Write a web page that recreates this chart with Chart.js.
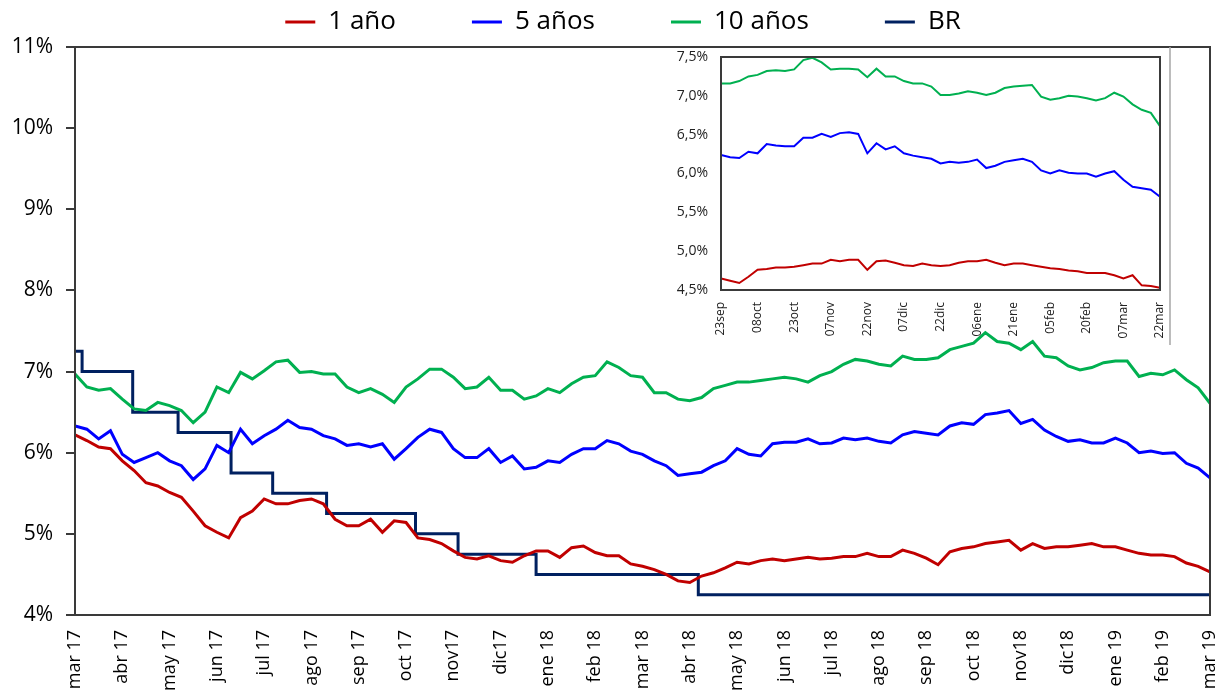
<!DOCTYPE html>
<html>
<head>
<meta charset="utf-8">
<script src="https://cdn.jsdelivr.net/npm/chart.js@4.4.1/dist/chart.umd.min.js"></script>
<style>
  body { margin: 0; background: #fff; }
  #wrap { position: relative; width: 1222px; height: 694px; overflow: hidden; }
  #main { position: absolute; left: 0; top: 0; }
  #inset { position: absolute; left: 660px; top: 45px; }
</style>
</head>
<body>
<div id="wrap">
  <canvas id="main" width="1222" height="694"></canvas>
  <canvas id="inset" width="515" height="305"></canvas>
</div>
<script>
// eje principal: una etiqueta por mes, 4 lecturas por mes
var months = ["mar 17", "abr 17", "may 17", "jun 17", "jul 17", "ago 17", "sep 17", "oct 17", "nov17", "dic17",
  "ene 18", "feb 18", "mar 18", "abr 18", "may 18", "jun 18", "jul 18", "ago 18", "sep 18", "oct 18", "nov18",
  "dic18", "ene 19", "feb 19", "mar 19"];

var uno = [6.22, 6.15, 6.07, 6.05, 5.9, 5.78, 5.63, 5.59, 5.51, 5.45, 5.28, 5.1, 5.02, 4.95, 5.2, 5.28, 5.43,
  5.37, 5.37, 5.41, 5.43, 5.37, 5.18, 5.1, 5.1, 5.18, 5.02, 5.16, 5.14, 4.95, 4.93, 4.88, 4.79,
  4.71, 4.69, 4.73, 4.67, 4.65, 4.73, 4.79, 4.79, 4.71, 4.83, 4.85, 4.77, 4.73, 4.73, 4.63, 4.6,
  4.56, 4.5, 4.42, 4.4, 4.48, 4.52, 4.58, 4.65, 4.63, 4.67, 4.69, 4.67, 4.69, 4.71, 4.69, 4.7,
  4.72, 4.72, 4.76, 4.72, 4.72, 4.8, 4.76, 4.7, 4.62, 4.78, 4.82, 4.84, 4.88, 4.9, 4.92, 4.8,
  4.88, 4.82, 4.84, 4.84, 4.86, 4.88, 4.84, 4.84, 4.8, 4.76, 4.74, 4.74, 4.72, 4.64, 4.6, 4.53];

var cinco = [6.33, 6.29, 6.17, 6.27, 5.98, 5.88, 5.94, 6.0, 5.9, 5.84, 5.67, 5.8, 6.09, 6.0, 6.29, 6.11, 6.21,
  6.29, 6.4, 6.31, 6.29, 6.21, 6.17, 6.09, 6.11, 6.07, 6.11, 5.92, 6.05, 6.19, 6.29, 6.25, 6.05,
  5.94, 5.94, 6.05, 5.88, 5.96, 5.8, 5.82, 5.9, 5.88, 5.98, 6.05, 6.05, 6.15, 6.11, 6.02, 5.98,
  5.9, 5.84, 5.72, 5.74, 5.76, 5.84, 5.9, 6.05, 5.98, 5.96, 6.11, 6.13, 6.13, 6.17, 6.11, 6.12,
  6.18, 6.16, 6.18, 6.14, 6.12, 6.22, 6.26, 6.24, 6.22, 6.33, 6.37, 6.35, 6.47, 6.49, 6.52, 6.36,
  6.41, 6.28, 6.2, 6.14, 6.16, 6.12, 6.12, 6.18, 6.12, 6.0, 6.02, 5.99, 6.0, 5.87, 5.81, 5.69];

var diez = [6.97, 6.81, 6.77, 6.79, 6.66, 6.54, 6.52, 6.62, 6.58, 6.52, 6.37, 6.5, 6.81, 6.74, 6.99, 6.91, 7.01,
  7.12, 7.14, 6.99, 7.0, 6.97, 6.97, 6.81, 6.74, 6.79, 6.72, 6.62, 6.81, 6.91, 7.03, 7.03, 6.93,
  6.79, 6.81, 6.93, 6.77, 6.77, 6.66, 6.7, 6.79, 6.74, 6.85, 6.93, 6.95, 7.12, 7.05, 6.95, 6.93,
  6.74, 6.74, 6.66, 6.64, 6.68, 6.79, 6.83, 6.87, 6.87, 6.89, 6.91, 6.93, 6.91, 6.87, 6.95, 7.0,
  7.09, 7.15, 7.13, 7.09, 7.07, 7.19, 7.15, 7.15, 7.17, 7.27, 7.31, 7.35, 7.48, 7.37, 7.35, 7.27,
  7.37, 7.19, 7.17, 7.07, 7.02, 7.05, 7.11, 7.13, 7.13, 6.94, 6.98, 6.96, 7.02, 6.9, 6.8, 6.61];

// tasa BR: mes (desde mar 17) en que cambia y nuevo nivel
var brMes = [0, 0.15, 1.22, 2.18, 3.3, 4.18, 5.32, 7.2, 8.1, 9.75, 13.18, 24];
var brTasa = [7.25, 7.0, 6.5, 6.25, 5.75, 5.5, 5.25, 5.0, 4.75, 4.5, 4.25, 4.25];

// recuadro: 23sep18 - 22mar19, 4 lecturas cada 15 dias
var fechasInset = ["23sep", "08oct", "23oct", "07nov", "22nov", "07dic", "22dic", "06ene", "21ene", "05feb",
  "20feb", "07mar", "22mar"];
var unoIn = [4.65, 4.62, 4.59, 4.67, 4.76, 4.77, 4.79, 4.79, 4.8, 4.82, 4.84, 4.84, 4.89, 4.87, 4.89, 4.89,
  4.76, 4.87, 4.88, 4.85, 4.82, 4.81, 4.84, 4.82, 4.81, 4.82, 4.85, 4.87, 4.87, 4.89, 4.85, 4.82, 4.84,
  4.84, 4.82, 4.8, 4.78, 4.77, 4.75, 4.74, 4.72, 4.72, 4.72, 4.69, 4.65, 4.69, 4.56, 4.55, 4.53];
var cincoIn = [6.24, 6.21, 6.2, 6.28, 6.26, 6.38, 6.36, 6.35, 6.35, 6.46, 6.46, 6.51, 6.47, 6.52, 6.53, 6.51,
  6.26, 6.39, 6.31, 6.35, 6.26, 6.23, 6.21, 6.19, 6.13, 6.15, 6.14, 6.15, 6.18, 6.07, 6.1, 6.15, 6.17,
  6.19, 6.15, 6.04, 6.0, 6.04, 6.01, 6.0, 6.0, 5.96, 6.0, 6.03, 5.92, 5.83, 5.81, 5.79, 5.7];
var diezIn = [7.16, 7.16, 7.19, 7.25, 7.27, 7.32, 7.33, 7.32, 7.34, 7.46, 7.49, 7.43, 7.34, 7.35, 7.35, 7.34,
  7.24, 7.35, 7.25, 7.25, 7.19, 7.16, 7.16, 7.12, 7.01, 7.01, 7.03, 7.06, 7.04, 7.01, 7.04, 7.1, 7.12,
  7.13, 7.14, 6.99, 6.95, 6.97, 7.0, 6.99, 6.97, 6.94, 6.97, 7.04, 6.99, 6.89, 6.82, 6.78, 6.61];

var ROJO = "#C00000", AZUL = "#0000FF", VERDE = "#00B050", NAVY = "#002060";

function puntos(vals) {
  return vals.map(function (v, i) { return { x: i / 4, y: v }; });
}

function serie(label, vals, color, ancho) {
  return {
    label: label,
    data: puntos(vals),
    borderColor: color,
    backgroundColor: color,
    borderWidth: ancho,
    pointRadius: 0,
    tension: 0
  };
}

// quitar el relleno que Chart.js deja para las etiquetas de los extremos
function sinRelleno(alto, ancho) {
  return function (s) {
    if (alto != null) s.height = alto;
    if (ancho != null) s.width = ancho;
    s.paddingLeft = 0;
    s.paddingRight = 0;
    s.paddingTop = 0;
    s.paddingBottom = 0;
  };
}

var marco = {
  id: "marco",
  afterDraw: function (chart) {
    var a = chart.chartArea, ctx = chart.ctx;
    ctx.save();
    ctx.strokeStyle = "#3a3a3a";
    ctx.lineWidth = 2;
    ctx.strokeRect(a.left, a.top, a.right - a.left, a.bottom - a.top);
    if (chart.canvas.id === "inset") {
      ctx.strokeStyle = "#a6a6a6";
      ctx.lineWidth = 1.5;
      ctx.beginPath();
      ctx.moveTo(510, 2);
      ctx.lineTo(510, 300);
      ctx.stroke();
    }
    ctx.restore();
  }
};

// leyenda con separacion amplia pero pegada arriba
var leyenda = {
  id: "leyenda",
  beforeInit: function (chart) {
    var fit = chart.legend.fit;
    chart.legend.fit = function () {
      fit.call(this);
      this.height = 47;
    };
  },
  afterLayout: function (chart) {
    var lg = chart.legend;
    lg.top = 9 - lg.options.labels.padding;
    lg.left += 18;
    lg.right += 18;
  }
};

var dsBR = {
  label: "BR",
  data: brMes.map(function (m, i) { return { x: m, y: brTasa[i] }; }),
  borderColor: NAVY,
  backgroundColor: NAVY,
  borderWidth: 3,
  pointRadius: 0,
  stepped: true
};

new Chart("main", {
  type: "line",
  data: {
    datasets: [
      serie("1 año", uno, ROJO, 3),
      serie("5 años", cinco, AZUL, 3),
      serie("10 años", diez, VERDE, 3),
      dsBR
    ]
  },
  options: {
    responsive: false,
    animation: false,
    layout: { padding: { right: 12 } },
    plugins: {
      tooltip: { enabled: false },
      legend: {
        position: "top",
        labels: {
          boxWidth: 30,
          boxHeight: 3,
          padding: 76,
          color: "#000",
          font: { family: "Open Sans", size: 26 },
          generateLabels: function (c) {
            return Chart.defaults.plugins.legend.labels.generateLabels(c).map(function (l) {
              l.lineWidth = 0;
              return l;
            });
          }
        }
      }
    },
    scales: {
      x: {
        type: "linear",
        min: 0,
        max: 24,
        afterFit: sinRelleno(79, null),
        grid: { display: false, drawTicks: false },
        border: { display: false },
        ticks: {
          stepSize: 1,
          autoSkip: false,
          minRotation: 90,
          maxRotation: 90,
          padding: 15,
          color: "#000",
          font: { family: "Open Sans", size: 18 },
          callback: function (v) { return months[v]; }
        }
      },
      y: {
        min: 4,
        max: 11,
        afterFit: sinRelleno(null, 75),
        grid: { drawOnChartArea: false, tickLength: 9, color: "#3a3a3a", lineWidth: 2 },
        border: { display: false },
        ticks: {
          stepSize: 1,
          padding: 13,
          color: "#000",
          font: { family: "Open Sans", size: 21 },
          callback: function (v) { return v + "%"; }
        }
      }
    }
  },
  plugins: [marco, leyenda]
});

new Chart("inset", {
  type: "line",
  data: {
    datasets: [
      serie("1 año", unoIn, ROJO, 2),
      serie("5 años", cincoIn, AZUL, 2),
      serie("10 años", diezIn, VERDE, 2)
    ]
  },
  options: {
    responsive: false,
    animation: false,
    layout: { padding: { top: 12, right: 15 } },
    plugins: { legend: { display: false }, tooltip: { enabled: false } },
    scales: {
      x: {
        type: "linear",
        min: 0,
        max: 12,
        afterFit: sinRelleno(60, null),
        grid: { display: false, drawTicks: false },
        border: { display: false },
        ticks: {
          stepSize: 1,
          autoSkip: false,
          minRotation: 90,
          maxRotation: 90,
          padding: 12,
          color: "#222",
          font: { family: "Open Sans", size: 12 },
          callback: function (v) { return fechasInset[v]; }
        }
      },
      y: {
        min: 4.5,
        max: 7.5,
        afterFit: sinRelleno(null, 61),
        grid: { display: false, drawTicks: false },
        border: { display: false },
        ticks: {
          stepSize: 0.5,
          padding: 13,
          color: "#222",
          font: { family: "Open Sans", size: 14 },
          callback: function (v) { return v.toFixed(1).replace(".", ",") + "%"; }
        }
      }
    }
  },
  plugins: [marco]
});
</script>
</body>
</html>
